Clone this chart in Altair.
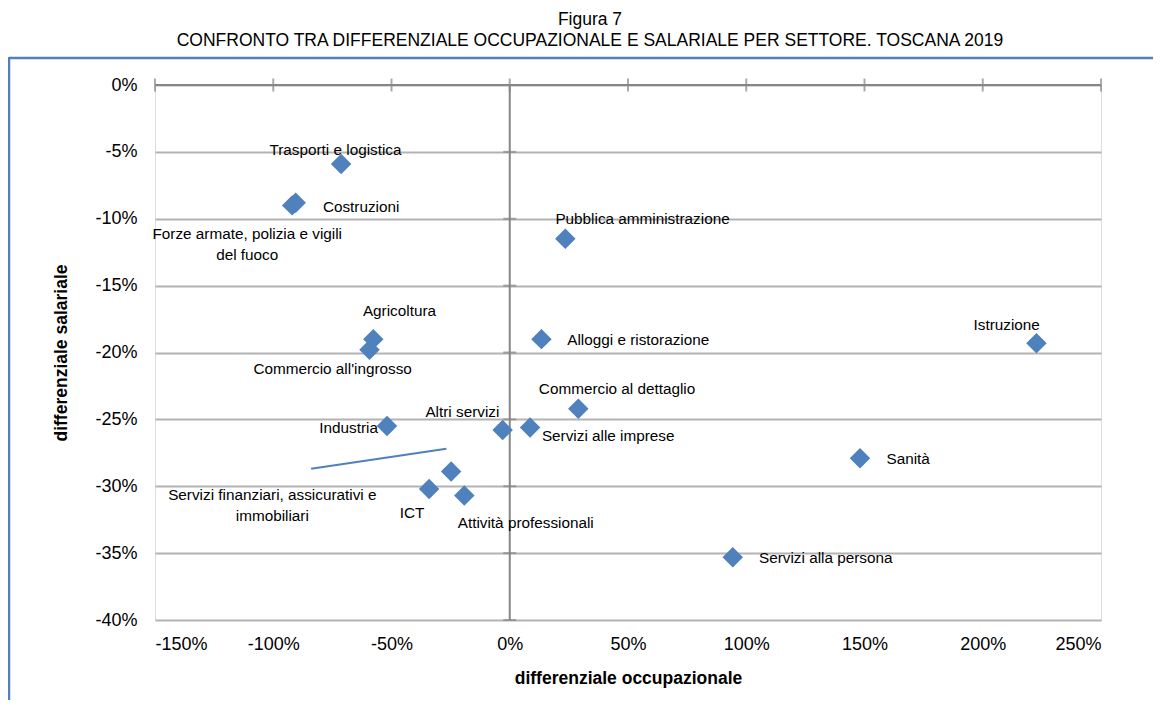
import altair as alt
import pandas as pd

# ---- data (percent values) ----
sectors = [
    "Trasporti e logistica", "Costruzioni", "Forze armate, polizia e vigili del fuoco",
    "Pubblica amministrazione", "Agricoltura", "Commercio all'ingrosso",
    "Alloggi e ristorazione", "Istruzione", "Commercio al dettaglio", "Altri servizi",
    "Servizi alle imprese", "Industria", "Sanità",
    "Servizi finanziari, assicurativi e immobiliari", "ICT", "Attività professionali",
    "Servizi alla persona",
]
occ_diff = [-71.3, -90.5, -92.0, 23.5, -57.7, -59.3, 13.4, 222.7, 29.0, -3.0,
            8.6, -51.9, 148.1, -24.8, -34.1, -19.2, 94.3]
sal_diff = [-5.9, -8.8, -9.0, -11.5, -19.0, -19.8, -19.0, -19.3, -24.2, -25.8,
            -25.6, -25.5, -27.9, -28.9, -30.2, -30.7, -35.3]

# label text lines and anchor positions (data units) with alignment
label_text = [
    "Trasporti e logistica", "Costruzioni", "Forze armate, polizia e vigili", "del fuoco",
    "Pubblica amministrazione", "Agricoltura", "Commercio all'ingrosso",
    "Alloggi e ristorazione", "Istruzione", "Commercio al dettaglio", "Altri servizi",
    "Servizi alle imprese", "Industria", "Sanità",
    "Servizi finanziari, assicurativi e", "immobiliari", "ICT", "Attività professionali",
    "Servizi alla persona",
]
label_x = [-101.6, -79.0, -111.0, -111.0, 19.3, -62.1, -108.4, 24.3, 196.1, 12.3, -4.4,
           13.6, -55.7, 159.3, -100.4, -100.4, -41.3, -22.0, 105.4]
label_y = [-4.86, -9.10, -11.14, -12.71, -10.01, -16.87, -21.23, -19.06, -17.94, -22.72,
           -24.42, -26.23, -25.66, -27.97, -30.64, -32.19, -32.01, -32.76, -35.37]
label_align = ["left", "left", "center", "center", "left", "left", "left", "left", "left",
               "left", "right", "left", "right", "left", "center", "center", "center",
               "left", "left"]

# leader line for "Servizi finanziari, assicurativi e immobiliari"
leader_x = [-84.0, -26.8]
leader_y = [-28.7, -27.2]

x_ticks = [-150, -100, -50, 0, 50, 100, 150, 200, 250]
y_ticks = [0, -5, -10, -15, -20, -25, -30, -35, -40]

FONT = "Liberation Sans, Arial, sans-serif"
BLUE = "#4f81bd"
GRID = "#b3b3b3"
AXIS = "#868686"

pts = pd.DataFrame({"settore": sectors, "occ": occ_diff, "sal": sal_diff})
labels = pd.DataFrame({"t": label_text, "x": label_x, "y": label_y, "a": label_align})
leader = pd.DataFrame({"x": leader_x, "y": leader_y})
xt = pd.DataFrame({"x": x_ticks})
yt = pd.DataFrame({"y": y_ticks})

xscale = alt.Scale(domain=[-150, 250], nice=False, zero=False)
yscale = alt.Scale(domain=[-40, 0], nice=False, zero=False)

xaxis = alt.Axis(values=x_ticks, labelExpr="datum.value + '%'", grid=False, ticks=False,
                 domain=False, labelFontSize=18, labelFont=FONT, labelColor="#000000",
                 labelPadding=15, title="differenziale occupazionale", titleFont=FONT,
                 titleFontSize=17.5, titleFontWeight="bold", titleColor="#000000",
                 titlePadding=16)
yaxis = alt.Axis(values=y_ticks, labelExpr="datum.value + '%'", grid=True, gridColor=GRID,
                 gridWidth=2, ticks=False, domain=False, labelFontSize=18, labelFont=FONT,
                 labelColor="#000000", labelPadding=18, title="differenziale salariale",
                 titleFont=FONT, titleFontSize=17.5, titleFontWeight="bold",
                 titleColor="#000000", titlePadding=24)

base_grid = alt.Chart(yt).mark_rule(opacity=0).encode(
    y=alt.Y("y:Q", scale=yscale, axis=yaxis),
)

zero_h = alt.Chart(pd.DataFrame({"y": [0]})).mark_rule(color=AXIS, strokeWidth=2).encode(
    y=alt.Y("y:Q", scale=yscale)
)
zero_v = alt.Chart(pd.DataFrame({"x": [0]})).mark_rule(color=AXIS, strokeWidth=2).encode(
    x=alt.X("x:Q", scale=xscale, axis=xaxis)
)
xtick_marks = alt.Chart(xt).mark_tick(orient="vertical", size=13, thickness=2, color=AXIS).encode(
    x=alt.X("x:Q", scale=xscale), y=alt.datum(0)
)
ytick_marks = alt.Chart(yt).mark_tick(orient="horizontal", size=13, thickness=2, color=AXIS).encode(
    y=alt.Y("y:Q", scale=yscale), x=alt.datum(0)
)

leader_line = alt.Chart(leader).mark_line(color=BLUE, strokeWidth=2).encode(
    x=alt.X("x:Q", scale=xscale), y=alt.Y("y:Q", scale=yscale)
)

points = alt.Chart(pts).mark_point(shape="diamond", filled=True, size=420, color=BLUE,
                                   opacity=1).encode(
    x=alt.X("occ:Q", scale=xscale), y=alt.Y("sal:Q", scale=yscale),
    tooltip=["settore", "occ", "sal"],
)

def text_layer(al):
    return alt.Chart(labels).transform_filter(alt.datum.a == al).mark_text(
        align=al, baseline="middle", font=FONT, fontSize=15.3, color="#000000"
    ).encode(x=alt.X("x:Q", scale=xscale), y=alt.Y("y:Q", scale=yscale), text="t:N")

frame_top = alt.Chart(pd.DataFrame({"k": [0]})).mark_rule(color=BLUE, strokeWidth=2.5).encode(
    x=alt.value(-146), x2=alt.value(1020), y=alt.value(-27)
)
frame_left = alt.Chart(pd.DataFrame({"k": [0]})).mark_rule(color=BLUE, strokeWidth=2.5).encode(
    x=alt.value(-146), y=alt.value(-28), y2=alt.value(640)
)

chart = alt.layer(
    base_grid, zero_h, zero_v, xtick_marks, ytick_marks, leader_line, points,
    text_layer("left"), text_layer("center"), text_layer("right"),
    frame_top, frame_left,
).properties(
    width=946, height=535,
    title=alt.Title(
        ["Figura 7",
         "CONFRONTO TRA DIFFERENZIALE OCCUPAZIONALE E SALARIALE PER SETTORE. TOSCANA 2019"],
        font=FONT, fontSize=17.5, fontWeight="normal", color="#000000", anchor="middle",
        frame="group", offset=6, lineHeight=21, dx=-38,
    ),
    autosize=alt.AutoSizeParams(type="none"),
    padding={"left": 147, "top": 77, "right": 52, "bottom": 80},
).configure_view(stroke=None).configure(background="white")

chart.save("out.html", embed_options={"renderer": "svg", "actions": False})
